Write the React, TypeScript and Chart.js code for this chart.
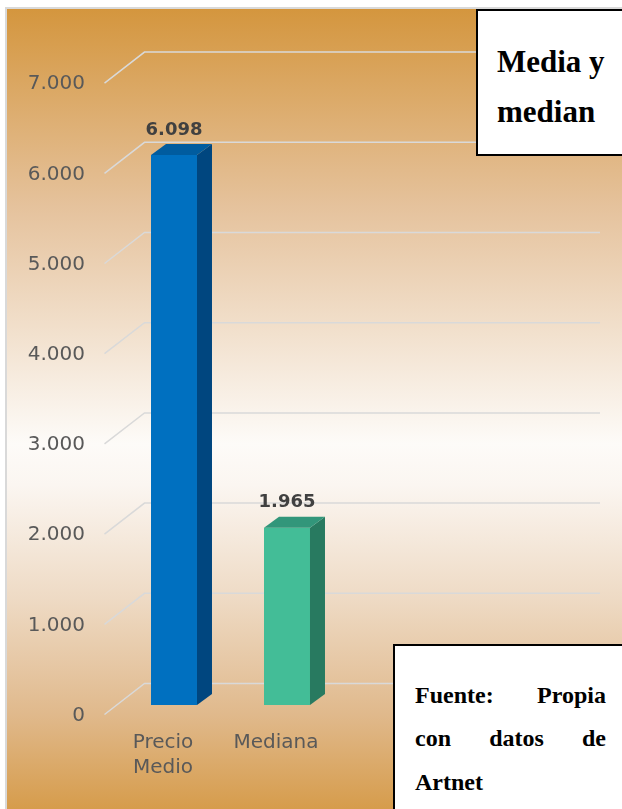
import React, { useEffect, useRef } from 'react';
import { Chart, registerables } from 'chart.js';

Chart.register(...registerables);

const categoryLines: string[][] = [['Precio', 'Medio'], ['Mediana']];
const categories: string[] = ['Precio Medio', 'Mediana'];
const values: number[] = [6098, 1965];
const dataLabels: string[] = ['6.098', '1.965'];
const yTickValues: number[] = [0, 1000, 2000, 3000, 4000, 5000, 6000, 7000];
const yTickLabels: string[] = ['0', '1.000', '2.000', '3.000', '4.000', '5.000', '6.000', '7.000'];

const frontColors = ['#0070C0', '#43BD97'];
const sideColors = ['#00467F', '#287A60'];
const topColors = ['#005C9F', '#32967A'];

const BAR_DX = 15;
const BAR_DY = -11;
const BACK_DX = 27;
const BACK_DY = -21.5;
const FRONT_DX = -13;
const FRONT_DY = 9.5;

const threeDPlugin = {
  id: 'threeD',
  beforeDatasetsDraw(chart: any) {
    const { ctx, chartArea, scales } = chart;
    const y = scales.y;
    ctx.save();
    ctx.strokeStyle = '#D9D9D9';
    ctx.lineWidth = 1.5;
    ctx.font = '20px "DejaVu Sans"';
    ctx.fillStyle = '#595959';
    ctx.textAlign = 'right';
    ctx.textBaseline = 'middle';
    yTickValues.forEach((v, i) => {
      const py = y.getPixelForValue(v);
      ctx.beginPath();
      ctx.moveTo(chartArea.left + FRONT_DX, py + FRONT_DY);
      ctx.lineTo(chartArea.left + BACK_DX, py + BACK_DY);
      ctx.lineTo(chart.width - 22, py + BACK_DY);
      ctx.stroke();
      ctx.fillText(yTickLabels[i], chartArea.left - 32.5, py + FRONT_DY + 1);
    });
    ctx.restore();
  },
  afterDatasetsDraw(chart: any) {
    const { ctx } = chart;
    const meta = chart.getDatasetMeta(0);
    ctx.save();
    meta.data.forEach((bar: any, i: number) => {
      const { x, y, base, width } = bar.getProps(['x', 'y', 'base', 'width'], true);
      const l = x - width / 2;
      const r = x + width / 2;
      ctx.fillStyle = sideColors[i];
      ctx.beginPath();
      ctx.moveTo(r, y);
      ctx.lineTo(r + BAR_DX, y + BAR_DY);
      ctx.lineTo(r + BAR_DX, base + BAR_DY);
      ctx.lineTo(r, base);
      ctx.closePath();
      ctx.fill();
      ctx.fillStyle = topColors[i];
      ctx.beginPath();
      ctx.moveTo(l, y);
      ctx.lineTo(l + BAR_DX, y + BAR_DY);
      ctx.lineTo(r + BAR_DX, y + BAR_DY);
      ctx.lineTo(r, y);
      ctx.closePath();
      ctx.fill();

      ctx.fillStyle = '#404040';
      ctx.font = 'bold 18px "DejaVu Sans"';
      ctx.textAlign = 'center';
      ctx.textBaseline = 'middle';
      ctx.fillText(dataLabels[i], x, y - 25);

      ctx.fillStyle = '#595959';
      ctx.font = '20px "DejaVu Sans"';
      categoryLines[i].forEach((t, j) => {
        ctx.fillText(t, x - 11, base + 38 + 25 * j);
      });
    });
    ctx.restore();
  },
};

export default function App() {
  const canvasRef = useRef<HTMLCanvasElement | null>(null);

  useEffect(() => {
    const canvas = canvasRef.current;
    if (!canvas) return;
    const chart = new Chart(canvas, {
      type: 'bar',
      data: {
        labels: categories,
        datasets: [
          {
            data: values,
            backgroundColor: frontColors,
            borderWidth: 0,
            categoryPercentage: 1,
            barPercentage: 0.407,
          },
        ],
      },
      options: {
        responsive: false,
        animation: false,
        devicePixelRatio: 1,
        layout: { padding: { left: 117.5, right: 278.5, top: 73.6, bottom: 104 } },
        plugins: { legend: { display: false }, tooltip: { enabled: false } },
        scales: {
          x: { display: false, offset: true },
          y: { display: false, min: 0, max: 7000 },
        },
      },
      plugins: [threeDPlugin],
    } as any);
    return () => chart.destroy();
  }, []);

  const serif = '"Liberation Serif", "Times New Roman", serif';

  return (
    <div
      style={{
        position: 'fixed',
        left: 0,
        top: 0,
        width: 622,
        height: 809,
        overflow: 'hidden',
        background: '#ffffff',
      }}
    >
      <div
        style={{
          position: 'absolute',
          left: 5,
          top: 7,
          width: 640,
          height: 820,
          borderLeft: '2px solid #D9D9D9',
          borderTop: '2px solid #D9D9D9',
          background:
            'linear-gradient(to bottom, #D4963E 0%, #E5C29C 24%, #FDFBF8 53%, #FBF6F1 58%, #EEDAC4 72%, #E0B98C 86%, #D4963E 100%)',
        }}
      />
      <canvas
        ref={canvasRef}
        width={622}
        height={809}
        style={{ position: 'absolute', left: 0, top: 0, width: 622, height: 809 }}
      />
      <div
        style={{
          position: 'absolute',
          left: 476,
          top: 9,
          width: 170,
          height: 143,
          border: '2px solid #000',
          background: '#fff',
          fontFamily: serif,
          fontWeight: 'bold',
          fontSize: 31,
          color: '#000',
        }}
      >
        <div style={{ position: 'absolute', left: 19, top: 72 - 26 - 11, lineHeight: '31px', whiteSpace: 'nowrap' }}>
          Media y
        </div>
        <div style={{ position: 'absolute', left: 19, top: 122 - 26 - 11, lineHeight: '31px', whiteSpace: 'nowrap' }}>
          median
        </div>
      </div>
      <div
        style={{
          position: 'absolute',
          left: 393,
          top: 644,
          width: 260,
          height: 200,
          border: '2px solid #000',
          background: '#fff',
          fontFamily: serif,
          fontWeight: 'bold',
          fontSize: 24,
          color: '#000',
        }}
      >
        <div
          style={{
            position: 'absolute',
            left: 20,
            width: 191,
            top: 703 - 20 - 646,
            lineHeight: '24px',
            display: 'flex',
            justifyContent: 'space-between',
          }}
        >
          <span>Fuente:</span>
          <span>Propia</span>
        </div>
        <div
          style={{
            position: 'absolute',
            left: 20,
            width: 191,
            top: 746 - 20 - 646,
            lineHeight: '24px',
            display: 'flex',
            justifyContent: 'space-between',
          }}
        >
          <span>con</span>
          <span>datos</span>
          <span>de</span>
        </div>
        <div style={{ position: 'absolute', left: 20, top: 790 - 20 - 646, lineHeight: '24px' }}>Artnet</div>
      </div>
    </div>
  );
}
